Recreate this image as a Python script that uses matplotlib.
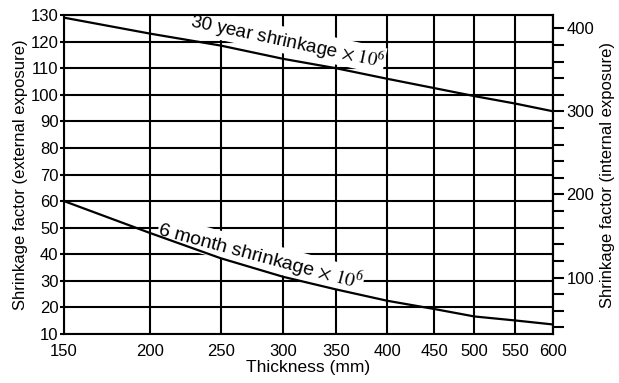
import matplotlib
matplotlib.use('Agg')
import matplotlib.pyplot as plt
import numpy as np

plt.rcParams['font.family'] = ['Liberation Sans', 'DejaVu Sans']
plt.rcParams['mathtext.fontset'] = 'stix'

# thickness ticks and where they sit on the (hand drawn, non-linear) axis
thickness = [150, 200, 250, 300, 350, 400, 450, 500, 550, 600]
tick_pos = [64, 150, 220.7, 283.3, 335.7, 387.3, 434.3, 474.3, 515, 552.7]

# shrinkage factor, external exposure
year30 = [129, 123, 118.5, 113.5, 110, 106, 102.5, 99.5, 96.7, 93.8]
month6 = [60, 48, 38.5, 31.5, 26.8, 22.5, 19.4, 16.6, 15.1, 13.6]

left_ticks = list(range(10, 131, 10))
right_major = [100, 200, 300, 400]
right_minor = [40, 60, 80, 120, 140, 160, 180, 220, 240, 260, 280, 320, 340, 360, 380]


def fwd(x):
    return np.interp(x, thickness, tick_pos)


def inv(p):
    return np.interp(p, tick_pos, thickness)


W, H = 619, 383
fig = plt.figure(figsize=(W / 100, H / 100), dpi=100)
ax = fig.add_axes([64 / W, 1 - 334 / H, (552.7 - 64) / W, (334 - 15) / H])
ax.set_xscale('function', functions=(fwd, inv))
ax.set_xlim(150, 600)
ax.set_ylim(10, 130)

ax.plot(thickness, year30, color='black', lw=1.6, zorder=3)
ax.plot(thickness, month6, color='black', lw=1.6, zorder=3)

ax.set_xticks(thickness)
ax.set_yticks(left_ticks)
ax.tick_params(axis='x', length=0, labelsize=12, pad=7)
ax.tick_params(axis='y', length=3, width=1.5, labelsize=12, pad=1)
ax.grid(True, color='black', lw=1.5)
for s in ax.spines.values():
    s.set_linewidth(1.5)

ax.set_xlabel('Thickness (mm)', fontsize=12.5, labelpad=1)
ax.set_ylabel('Shrinkage factor (external exposure)', fontsize=12, labelpad=2)

sec = ax.secondary_yaxis('right', functions=(lambda v: v * 3.2, lambda v: v / 3.2))
sec.set_yticks(right_major)
sec.set_yticks(right_minor, minor=True)
sec.tick_params(which='both', length=8, width=1.5, labelsize=12, pad=2)
sec.spines['right'].set_linewidth(1.5)
sec.set_ylabel('Shrinkage factor (internal exposure)', fontsize=12, labelpad=4)

box = dict(facecolor='white', edgecolor='none', pad=0.3)
ax.text(304, 120.3, r'30 year shrinkage $\times\ \mathit{10}^{6}$', fontsize=13.5,
        rotation=-12, ha='center', va='center', bbox=box, zorder=2.5)
ax.text(282, 39.5, r'6 month shrinkage $\times\ \mathit{10}^{6}$', fontsize=14,
        rotation=-15, ha='center', va='center', bbox=box, zorder=2.5)

fig.savefig('out.png', dpi=100)
